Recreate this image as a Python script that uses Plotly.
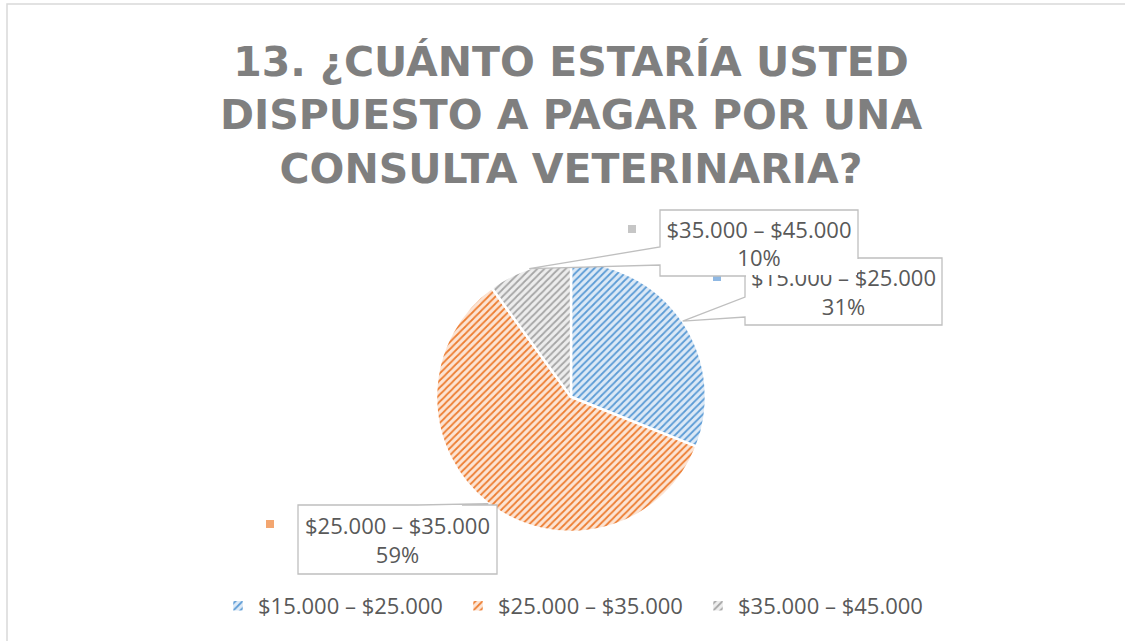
import math
import plotly.graph_objects as go

# ---- data ----
labels = ["$15.000 – $25.000", "$25.000 – $35.000", "$35.000 – $45.000"]
values = [31, 59, 10]
fg_colors = ["#5b9bd5", "#ed7d31", "#a5a5a5"]
bg_colors = ["#dce9f6", "#fce4d4", "#ededed"]
key_colors = ["#8fb8e3", "#f3a670", "#c6c6c6"]
title_lines = ["13. ¿CUÁNTO ESTARÍA USTED", "DISPUESTO A PAGAR POR UNA", "CONSULTA VETERINARIA?"]

# ---- layout geometry (pixels) ----
W, H = 1125, 641
CX, CY, R = 571, 397, 135
# callout boxes: (left, top, right, bottom), wedge side, wedge base (a, b)
boxes = [
    ((745, 258, 942, 325), "left", (297, 317)),
    ((298, 505, 497, 574), "top", (418, 462)),
    ((660, 210, 858, 276), "left", (247, 265)),
]
draw_order = [0, 1, 2]


def px(x):
    return x / W


def py(y):
    return (H - y) / H


fig = go.Figure(
    go.Pie(
        labels=labels,
        values=values,
        sort=False,
        direction="clockwise",
        rotation=0,
        textinfo="none",
        hoverinfo="label+percent",
        marker=dict(
            colors=fg_colors,
            line=dict(color="white", width=2.5),
            pattern=dict(shape="/", fgcolor=fg_colors, bgcolor=bg_colors,
                         size=5, solidity=0.35, fillmode="replace"),
        ),
        domain=dict(x=[px(CX - R), px(CX + R)], y=[py(CY + R), py(CY - R)]),
    )
)

shapes = []
annotations = []
total = sum(values)
cum = 0
tips = []
for v in values:
    mid = (cum + v / 2) / total * 2 * math.pi
    tips.append((CX + R * math.sin(mid), CY - R * math.cos(mid)))
    cum += v

for i in draw_order:
    (x0, y0, x1, y1), side, (a, b) = boxes[i]
    tx, ty = tips[i]
    if side == "left":
        pts = [(x0, y0), (x1, y0), (x1, y1), (x0, y1), (x0, b), (tx, ty), (x0, a)]
    else:
        pts = [(x0, y0), (a, y0), (tx, ty), (b, y0), (x1, y0), (x1, y1), (x0, y1)]
    path = "M " + " L ".join(f"{px(x):.5f},{py(y):.5f}" for x, y in pts) + " Z"
    shapes.append(dict(type="path", xref="paper", yref="paper", path=path,
                       fillcolor="white", line=dict(color="#bfbfbf", width=1.3), layer="above"))
    # legend key inside label
    kx, ky = x0 - 28, y0 + 19
    shapes.append(dict(type="rect", xref="paper", yref="paper",
                       x0=px(kx - 4), x1=px(kx + 4), y0=py(ky + 4), y1=py(ky - 4),
                       fillcolor=key_colors[i], line=dict(width=0), layer="above"))
    pct = round(values[i] / total * 100)
    annotations.append(dict(
        xref="paper", yref="paper", x=px((x0 + x1) / 2), y=py((y0 + y1) / 2),
        xanchor="center", yanchor="middle", showarrow=False, align="center", valign="middle",
        width=x1 - x0 - 2, height=y1 - y0 - 2, borderpad=0, borderwidth=0, bgcolor="white",
        text=f"{labels[i]}<br>{pct}%",
        font=dict(family="Open Sans", size=22, color="#595959"),
    ))

# chart area border
shapes.append(dict(type="rect", xref="paper", yref="paper",
                   x0=px(7), x1=1.02, y0=-0.02, y1=py(4),
                   line=dict(color="#d9d9d9", width=1.5), fillcolor="rgba(0,0,0,0)", layer="below"))

annotations.append(dict(
    xref="paper", yref="paper", x=px(571), y=py(115), xanchor="center", yanchor="middle",
    showarrow=False, align="center", text="<br>".join(title_lines),
    font=dict(family="DejaVu Sans", size=41, color="#7f7f7f", weight="bold"),
))

fig.update_layout(
    width=W, height=H,
    margin=dict(l=0, r=0, t=0, b=0),
    paper_bgcolor="white", plot_bgcolor="white",
    showlegend=True,
    legend=dict(orientation="h", x=px(578), xanchor="center", y=py(606), yanchor="middle",
                font=dict(family="Open Sans", size=22, color="#595959"),
                entrywidth=195, traceorder="normal", itemclick=False),
    shapes=shapes,
    annotations=annotations,
)

fig.write_html("out.html", config={"displayModeBar": False},
               post_script="document.body.style.margin='0';"
                           "document.body.style.overflow='hidden';"
                           "document.documentElement.style.overflow='hidden';")
